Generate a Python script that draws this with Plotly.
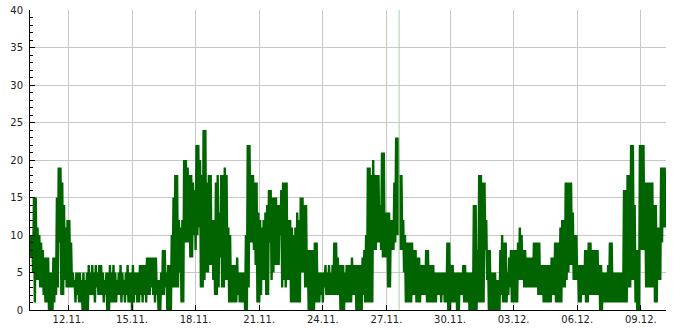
import pandas as pd
import plotly.graph_objects as go

# Hourly readings, starting 10.11. 05:00 (24 values per day)
start_time = "2023-11-10 05:00"
hourly_values = [
    10, 7, 10, 5, 15, 1, 15, 4, 11, 4, 10, 3, 9, 3, 8, 2, 7, 1, 7, 1, 7, 0, 5, 0,
    5, 0, 7, 1, 7, 2, 15, 3, 19, 9, 19, 2, 17, 2, 14, 4, 11, 3, 12, 3, 12, 3, 9, 3,
    5, 3, 4, 1, 5, 2, 5, 1, 5, 1, 4, 0, 5, 0, 4, 0, 5, 0, 6, 2, 5, 2, 6, 2,
    5, 1, 6, 3, 5, 2, 6, 2, 6, 2, 5, 1, 4, 2, 5, 0, 5, 0, 6, 1, 5, 1, 6, 1,
    5, 1, 4, 2, 5, 2, 6, 1, 5, 2, 4, 1, 5, 2, 6, 1, 5, 1, 5, 0, 6, 1, 5, 2,
    5, 1, 5, 1, 6, 2, 6, 1, 6, 2, 6, 1, 7, 2, 7, 2, 7, 3, 7, 2, 7, 1, 7, 2,
    4, 0, 4, 0, 5, 2, 8, 2, 8, 3, 5, 0, 6, 0, 6, 0, 10, 3, 15, 3, 18, 3, 18, 3,
    12, 5, 11, 1, 12, 1, 20, 9, 20, 9, 19, 9, 18, 7, 18, 7, 17, 10, 16, 8, 22, 10, 22, 11,
    20, 3, 18, 3, 24, 4, 24, 5, 17, 5, 18, 6, 18, 6, 12, 4, 12, 2, 17, 2, 18, 3, 13, 7,
    18, 3, 18, 3, 19, 4, 18, 4, 11, 1, 10, 1, 6, 1, 6, 1, 6, 1, 7, 2, 5, 1, 5, 1,
    5, 1, 5, 0, 10, 0, 22, 3, 22, 9, 18, 9, 18, 8, 17, 6, 17, 1, 13, 1, 12, 2, 11, 4,
    12, 4, 13, 2, 14, 2, 16, 9, 16, 4, 15, 5, 15, 6, 15, 6, 14, 6, 14, 10, 16, 3, 17, 4,
    17, 3, 17, 4, 12, 4, 12, 1, 11, 1, 10, 1, 11, 1, 13, 1, 12, 1, 15, 5, 15, 5, 14, 3,
    14, 3, 8, 0, 8, 0, 8, 0, 8, 0, 9, 1, 9, 1, 5, 1, 5, 2, 5, 1, 5, 3, 6, 2,
    5, 2, 6, 2, 5, 2, 6, 2, 9, 2, 9, 2, 7, 2, 6, 0, 6, 0, 6, 0, 5, 1, 6, 1,
    6, 1, 6, 1, 7, 2, 6, 2, 6, 0, 6, 0, 6, 0, 6, 0, 7, 2, 8, 1, 10, 1, 19, 1,
    19, 1, 18, 1, 20, 8, 18, 8, 18, 9, 18, 9, 14, 8, 21, 7, 21, 7, 13, 7, 13, 3, 13, 3,
    12, 8, 12, 8, 17, 9, 23, 10, 23, 10, 18, 8, 18, 8, 12, 5, 10, 1, 9, 1, 9, 1, 9, 1,
    9, 2, 8, 2, 8, 1, 7, 1, 7, 1, 6, 2, 6, 2, 6, 2, 8, 1, 8, 1, 6, 1, 6, 1,
    6, 1, 5, 1, 5, 2, 5, 2, 5, 1, 5, 2, 5, 1, 5, 1, 9, 0, 9, 0, 6, 1, 6, 1,
    5, 1, 5, 0, 5, 0, 5, 2, 5, 2, 6, 1, 6, 1, 5, 1, 5, 0, 5, 0, 5, 0, 14, 0,
    14, 0, 8, 1, 18, 1, 18, 1, 17, 1, 17, 8, 12, 4, 8, 0, 8, 0, 5, 0, 5, 0, 5, 0,
    4, 0, 4, 0, 8, 2, 10, 1, 9, 1, 9, 1, 5, 2, 7, 3, 8, 1, 8, 1, 8, 1, 8, 1,
    9, 4, 11, 4, 10, 4, 8, 3, 8, 3, 7, 3, 7, 3, 7, 3, 7, 3, 9, 3, 9, 3, 9, 2,
    9, 2, 6, 2, 6, 1, 6, 1, 6, 1, 6, 1, 6, 1, 7, 2, 7, 2, 9, 1, 9, 1, 9, 1,
    11, 1, 12, 3, 12, 3, 17, 4, 17, 5, 17, 6, 17, 6, 13, 4, 10, 4, 10, 4, 6, 1, 6, 1,
    6, 2, 6, 2, 8, 1, 8, 1, 9, 2, 9, 2, 8, 2, 8, 2, 8, 2, 8, 2, 6, 0, 6, 0,
    5, 1, 5, 1, 5, 1, 6, 1, 9, 1, 9, 1, 5, 1, 5, 1, 5, 1, 5, 1, 5, 1, 5, 1,
    16, 1, 16, 1, 18, 3, 18, 3, 22, 4, 22, 4, 14, 1, 8, 0, 8, 0, 22, 8, 22, 8, 22, 8,
    17, 3, 17, 3, 17, 3, 17, 3, 17, 3, 14, 1, 14, 1, 11, 4, 11, 4, 19, 9, 19, 11, 19, 11,
]
x_range = ["2023-11-10 04:30", "2023-12-10 04:30"]
tick_dates = ["2023-11-12", "2023-11-15", "2023-11-18", "2023-11-21", "2023-11-24",
              "2023-11-27", "2023-11-30", "2023-12-03", "2023-12-06", "2023-12-09"]
tick_labels = ["12.11.", "15.11.", "18.11.", "21.11.", "24.11.",
               "27.11.", "30.11.", "03.12.", "06.12.", "09.12."]
marker_time = "2023-11-27 14:20"

times = pd.date_range(start_time, periods=len(hourly_values), freq="h")

fig = go.Figure()
fig.add_trace(go.Scatter(
    x=times, y=hourly_values, mode="lines",
    line=dict(color="#006400", width=2.4),
    hoverinfo="skip", showlegend=False,
))

fig.add_shape(type="line", xref="x", yref="paper",
              x0=marker_time, x1=marker_time, y0=0, y1=1,
              line=dict(color="#9fd49f", width=1), layer="above")

fig.update_layout(
    width=685, height=330,
    margin=dict(l=30, r=19, t=10, b=20, autoexpand=False),
    paper_bgcolor="white", plot_bgcolor="white",
    font=dict(family="DejaVu Sans", size=10, color="#222"),
)
fig.update_xaxes(
    range=x_range, type="date", automargin=False,
    tickvals=tick_dates, ticktext=tick_labels,
    ticks="inside", ticklen=5, tickcolor="black",
    showgrid=True, gridcolor="#c8c8c8", gridwidth=1,
    showline=True, linecolor="black", linewidth=1,
    zeroline=False,
)
fig.update_yaxes(
    range=[0, 40], dtick=5, tick0=0, automargin=False,
    ticks="inside", ticklen=5, tickcolor="black",
    minor=dict(dtick=1, ticks="inside", ticklen=3, tickcolor="black", showgrid=False),
    showgrid=True, gridcolor="#c8c8c8", gridwidth=1,
    showline=True, linecolor="black", linewidth=1,
    zeroline=False, ticklabelstandoff=4,
)

fig.write_html("out.html")
